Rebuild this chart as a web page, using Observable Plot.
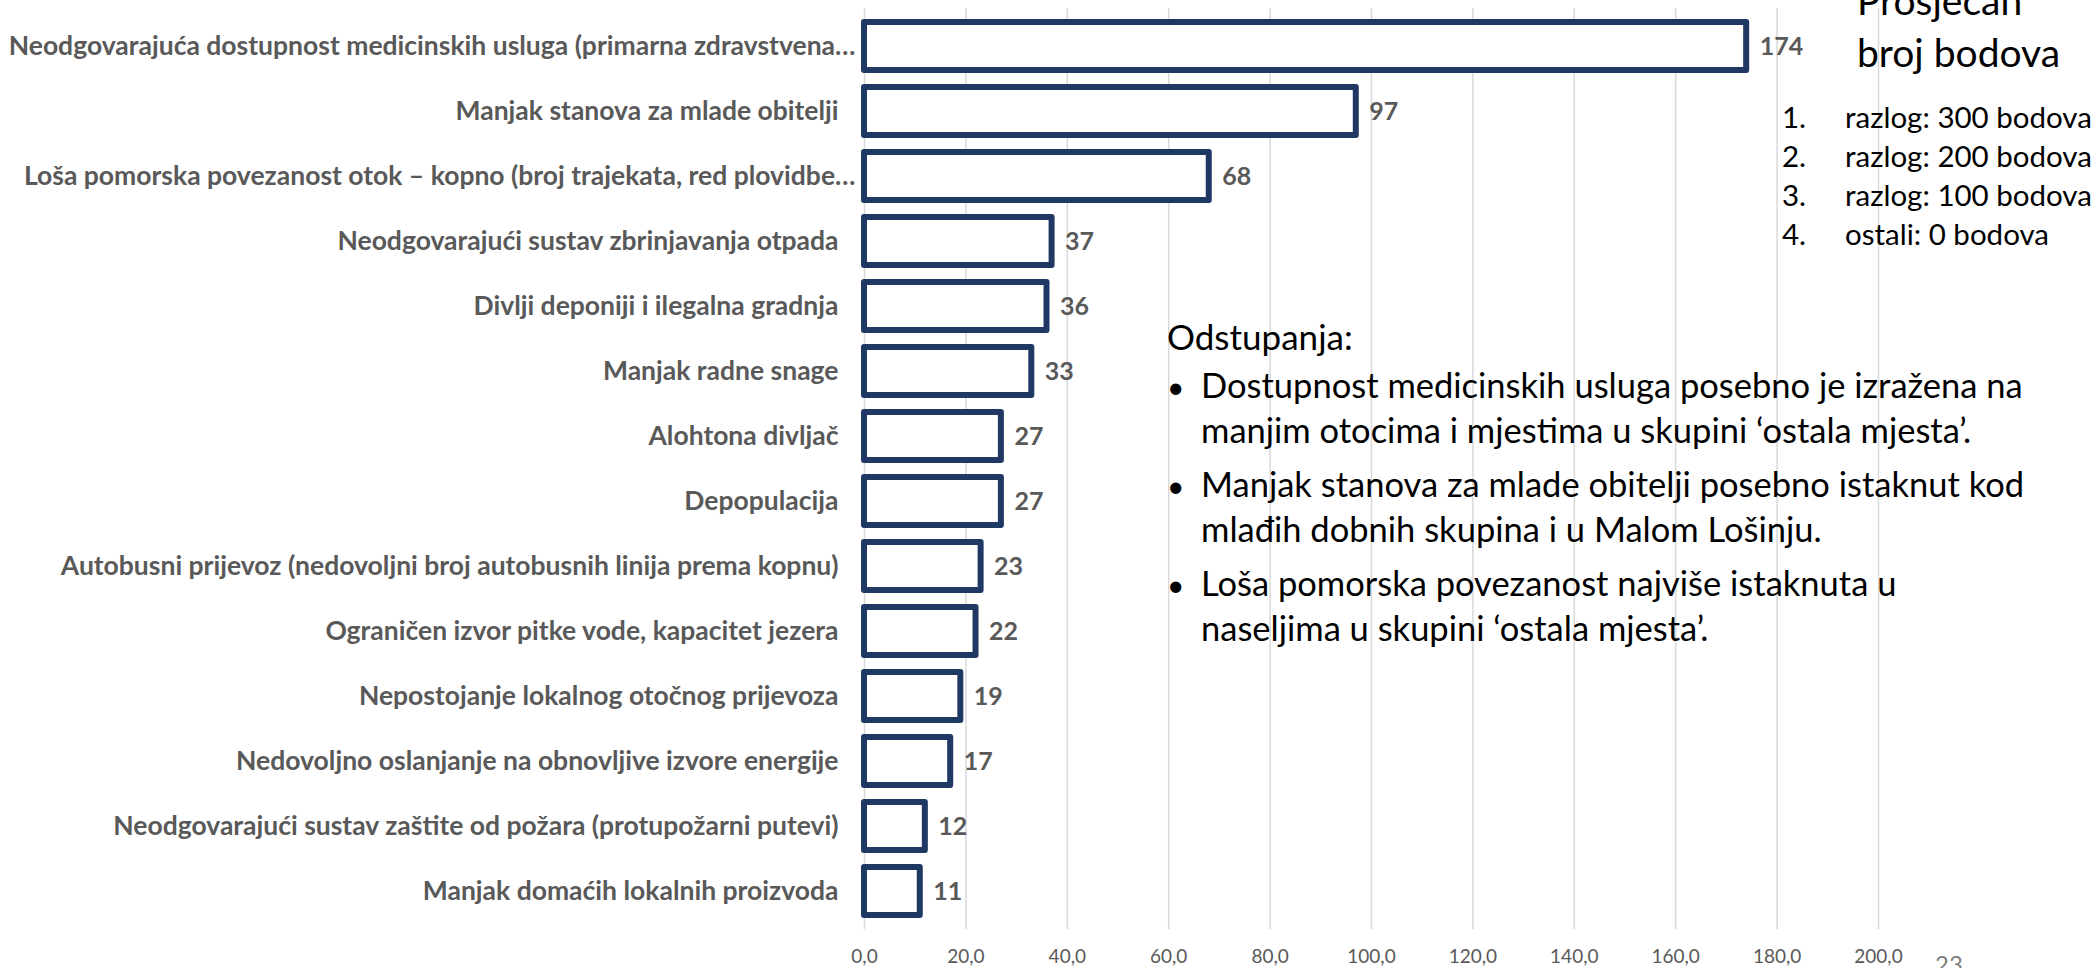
<!DOCTYPE html>
<html>
<head>
<meta charset="utf-8">
<script src="https://cdn.jsdelivr.net/npm/d3@7"></script>
<script src="https://cdn.jsdelivr.net/npm/@observablehq/plot@0.6"></script>
<style>
  html, body { margin: 0; padding: 0; background: white; }
  #wrap { position: relative; width: 2100px; height: 968px; overflow: hidden; background: white; }
  #overlay { position: absolute; left: 0; top: 0; pointer-events: none; }
</style>
</head>
<body>
<div id="wrap"></div>
<script>
// ---- data ----
const categories = [
  "Neodgovarajuća dostupnost medicinskih usluga (primarna zdravstvena…",
  "Manjak stanova za mlade obitelji",
  "Loša pomorska povezanost otok – kopno (broj trajekata, red plovidbe…",
  "Neodgovarajući sustav zbrinjavanja otpada",
  "Divlji deponiji i ilegalna gradnja",
  "Manjak radne snage",
  "Alohtona divljač",
  "Depopulacija",
  "Autobusni prijevoz (nedovoljni broj autobusnih linija prema kopnu)",
  "Ograničen izvor pitke vode, kapacitet jezera",
  "Nepostojanje lokalnog otočnog prijevoza",
  "Nedovoljno oslanjanje na obnovljive izvore energije",
  "Neodgovarajući sustav zaštite od požara (protupožarni putevi)",
  "Manjak domaćih lokalnih proizvoda"
];
const values = [174, 97, 68, 37, 36, 33, 27, 27, 23, 22, 19, 17, 12, 11];
const xTicks = [0, 20, 40, 60, 80, 100, 120, 140, 160, 180, 200];

const titleLines = ["Prosječan", "broj bodova"];
const listNumbers = ["1.", "2.", "3.", "4."];
const listItems = ["razlog: 300 bodova", "razlog: 200 bodova", "razlog: 100 bodova", "ostali: 0 bodova"];
const noteHeading = "Odstupanja:";
const noteBullets = [
  ["Dostupnost medicinskih usluga posebno je izražena na", "manjim otocima i mjestima u skupini ‘ostala mjesta’."],
  ["Manjak stanova za mlade obitelji posebno istaknut kod", "mlađih dobnih skupina i u Malom Lošinju."],
  ["Loša pomorska povezanost najviše istaknuta u", "naseljima u skupini ‘ostala mjesta’."]
];
const pageNumber = "23";

const data = categories.map((c, i) => ({category: c, value: values[i]}));
const truncated = d => d.category.endsWith("…");

const FONT = "Lato, 'Open Sans', sans-serif";
const labelStyle = {textAnchor: "end", fill: "#595959", fontWeight: "bold", fontSize: 26.5, fontFamily: FONT};

const chart = Plot.plot({
  width: 2100,
  height: 968,
  marginLeft: 864,
  marginRight: 222,
  marginTop: 8,
  marginBottom: 39,
  style: {fontFamily: FONT, background: "white", overflow: "visible"},
  x: {domain: [0, 200], axis: null, label: null},
  y: {domain: categories, paddingInner: 0.255, paddingOuter: 0.1275, axis: null, label: null},
  marks: [
    Plot.gridX(xTicks, {stroke: "#d9d9d9", strokeOpacity: 1, strokeWidth: 1.5}),
    Plot.barX(data, {x: "value", y: "category", fill: "white", stroke: "#1f3864", strokeWidth: 6, strokeLinejoin: "round"}),
    Plot.text(data, {x: "value", y: "category", text: d => String(d.value), dx: 13, textAnchor: "start",
      fill: "#595959", fontWeight: "bold", fontSize: 25, fontFamily: FONT}),
    Plot.text(data.filter(d => !truncated(d)), {x: 0, y: "category", text: "category", dx: -26, ...labelStyle}),
    Plot.text(data.filter(truncated), {x: 0, y: "category", text: "category", dx: -9, ...labelStyle}),
    Plot.axisX(xTicks, {anchor: "bottom", label: null, tickSize: 0, tickPadding: 20,
      tickFormat: d => d.toFixed(1).replace(".", ","), fill: "#595959", fontSize: 19, fontFamily: FONT})
  ]
});

const wrap = document.getElementById("wrap");
wrap.appendChild(chart);

// ---- annotation overlay ----
const svg = d3.select(wrap).append("svg")
  .attr("id", "overlay").attr("width", 2100).attr("height", 968)
  .style("font-family", FONT);

function put(x, y, str, size, fill = "#000", anchor = "start") {
  svg.append("text").attr("x", x).attr("y", y).attr("font-size", size)
    .attr("fill", fill).attr("text-anchor", anchor).text(str);
}

titleLines.forEach((t, i) => put(1857, 15 + i * 52, t, 39));
listNumbers.forEach((n, i) => {
  put(1782, 128 + i * 39, n, 29.5);
  put(1845, 128 + i * 39, listItems[i], 29.5);
});
put(1167, 350, noteHeading, 35);
let base = 398;
noteBullets.forEach(lines => {
  put(1167, base, "•", 30);
  lines.forEach((ln, j) => put(1201, base + j * 45, ln, 34.5));
  base += 45 + 54;
});
put(1935, 973, pageNumber, 24, "#7f7f7f");
</script>
</body>
</html>
